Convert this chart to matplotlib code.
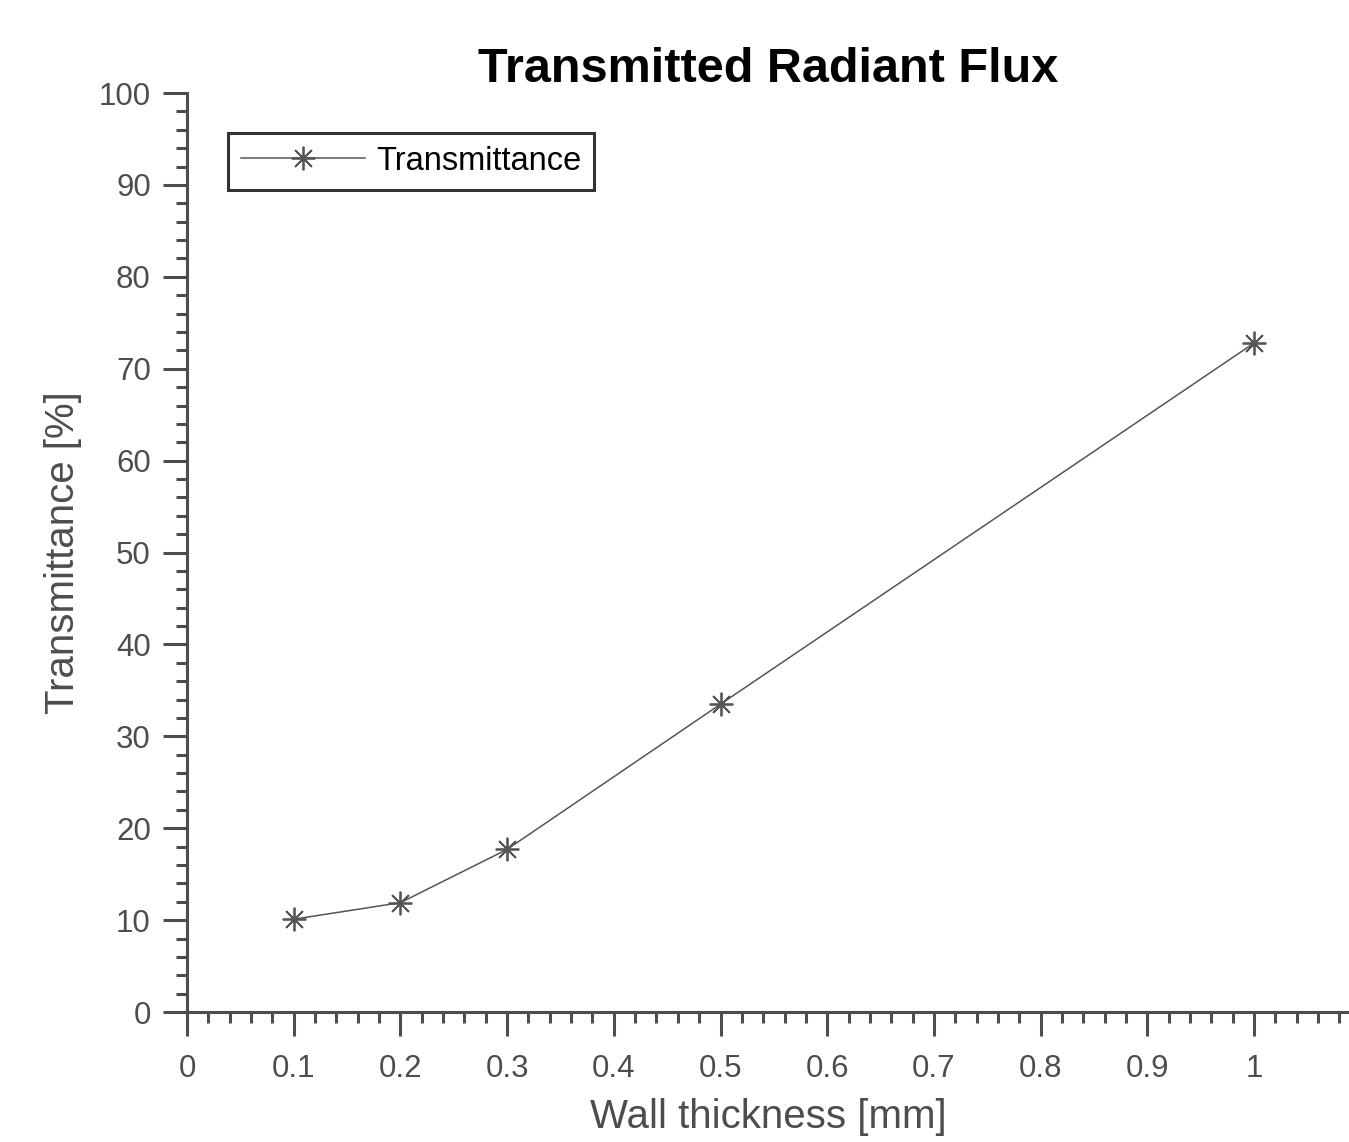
import numpy as np
import matplotlib.pyplot as plt
from matplotlib.ticker import MultipleLocator

plt.rcParams['font.family'] = ['Liberation Sans', 'DejaVu Sans']

# Data
thickness = [0.1, 0.2, 0.3, 0.5, 1.0]          # mm
transmittance = [10.1, 11.9, 17.7, 33.5, 72.8]  # %
xtick_labels = ['0', '0.1', '0.2', '0.3', '0.4', '0.5', '0.6', '0.7', '0.8', '0.9', '1']

axis_col = '#4d4d4d'
line_col = '#555555'

fig = plt.figure(figsize=(13.49, 11.42), dpi=100)
ax = fig.add_axes([0.1386, 0.1138, 0.8614, 0.8047])

ax.plot(thickness, transmittance, color=line_col, lw=1.1,
        marker=(8, 2, 0), markersize=17, markeredgewidth=1.3,
        label='Transmittance')

ax.set_xlim(0, 1.089)
ax.set_ylim(0, 100)
ax.xaxis.set_minor_locator(MultipleLocator(0.02))
ax.yaxis.set_major_locator(MultipleLocator(10))
ax.yaxis.set_minor_locator(MultipleLocator(2))
ax.set_xticks(np.arange(0, 1.01, 0.1))
ax.set_xticklabels(xtick_labels)

for s in ['top', 'right']:
    ax.spines[s].set_visible(False)
for s in ['left', 'bottom']:
    ax.spines[s].set_color(axis_col)
    ax.spines[s].set_linewidth(2.2)

ax.tick_params(which='major', direction='out', length=17, width=2.2,
               color=axis_col, labelcolor=axis_col, labelsize=22.5)
ax.tick_params(which='minor', direction='out', length=8, width=2.2, color=axis_col)
ax.tick_params(axis='x', which='major', pad=13)
ax.tick_params(axis='y', which='major', pad=9)

ax.set_xlabel('Wall thickness [mm]', fontsize=29, color=axis_col, labelpad=10)
ax.set_ylabel('Transmittance [%]', fontsize=29, color=axis_col, labelpad=12)
ax.set_title('Transmitted Radiant Flux', fontsize=35, fontweight='bold', pad=8)

leg = ax.legend(loc='upper left', bbox_to_anchor=(0.035, 0.957), fontsize=23.5,
                frameon=True, fancybox=False, handlelength=3.8,
                borderpad=0.4, handletextpad=0.35, borderaxespad=0)
leg.get_frame().set_edgecolor('black')
leg.get_frame().set_linewidth(2.2)

fig.savefig('out.png', dpi=100)
